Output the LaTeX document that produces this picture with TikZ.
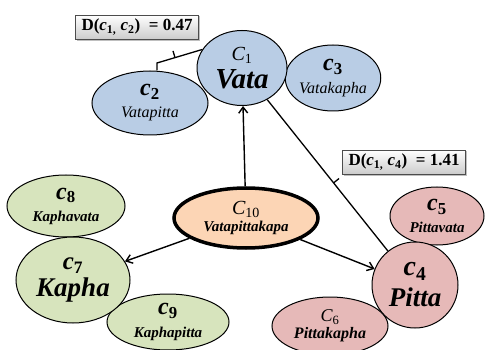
\documentclass[tikz,border=0pt]{standalone}
\usepackage{fontspec}
\setmainfont{Liberation Serif}
\usepackage{tikz}
\usetikzlibrary{positioning,arrows.meta,shapes.geometric,shadows,decorations.markings}

\definecolor{vatablue}{RGB}{185,205,229}
\definecolor{pittapink}{RGB}{230,185,184}
\definecolor{kaphagreen}{RGB}{215,228,189}
\definecolor{mixorange}{RGB}{252,213,181}

\newcommand{\clab}[3]{{\fontsize{#3}{#3}\selectfont\itshape #1\textsubscript{\upshape #2}}}
\newcommand{\dname}[2]{{\fontsize{#2}{#2}\selectfont\bfseries\itshape #1}}
\newcommand{\dlite}[2]{{\fontsize{#2}{#2}\selectfont\itshape #1}}

\tikzset{
  grp/.style={ellipse, draw, line width=1pt, inner sep=0pt, align=center},
  bl/.style={font=\fontsize{10}{#1}\selectfont},
  vata/.style={grp, fill=vatablue},
  pitta/.style={grp, fill=pittapink},
  kapha/.style={grp, fill=kaphagreen},
  dbox/.style={draw=gray!60!black, top color=white, bottom color=gray!40,
    drop shadow={shadow xshift=1.5pt, shadow yshift=-1.5pt, opacity=0.5},
    inner xsep=6pt, inner ysep=4pt, font=\fontsize{17}{17}\selectfont\bfseries},
  arr/.style={line width=1.4pt, -{Straight Barb[length=6pt,width=9pt]}},
  dline/.style={line width=1.3pt},
  dtick/.style 2 args={decoration={markings, mark=at position #1 with {\draw (0,0) -- (0,#2);}}, postaction={decorate}},
}

\begin{document}
\begin{tikzpicture}[x=1pt,y=-1pt]
  \useasboundingbox (0,0) rectangle (485,350);

  % Vata group
  \node[vata, bl=22, minimum width=116, minimum height=64] (c2) at (150,103)
    {\clab{\bfseries c}{2}{24}\\\dlite{Vatapitta}{16}};
  \node[vata, bl=23, minimum width=94, minimum height=66] (c3) at (333,78)
    {\clab{\bfseries c}{3}{24}\\\dlite{Vatakapha}{16}};
  \node[vata, bl=28, minimum width=90, minimum height=75] (c1) at (242,68)
    {\clab{C}{1}{20}\\\dname{Vata}{29}};

  % Pitta group
  \node[pitta, bl=22, minimum width=94, minimum height=58] (c5) at (437,216)
    {\clab{\bfseries c}{5}{24}\\\dname{Pittavata}{15}};
  \node[pitta, bl=17, minimum width=116, minimum height=58] (c6) at (330,326)
    {\clab{C}{6}{18}\\\dname{Pittakapha}{16}};
  \node[pitta, bl=31, minimum width=86, minimum height=86] (c4) at (415,285)
    {\clab{\bfseries c}{4}{28}\\\dname{Pitta}{27}};

  % Kapha group
  \node[kapha, bl=22, minimum width=118, minimum height=62] (c8) at (66,206)
    {\clab{\bfseries c}{8}{24}\\\dname{Kaphavata}{15}};
  \node[kapha, bl=23, minimum width=122, minimum height=56] (c9) at (168,322)
    {\clab{\bfseries c}{9}{24}\\\dname{Kaphapitta}{15}};
  \node[kapha, bl=27, minimum width=114, minimum height=86] (c7) at (73,280)
    {\clab{\bfseries c}{7}{25}\\\dname{Kapha}{27}};

  % Mixed type in the middle
  \node[grp, bl=17, fill=mixorange, line width=3.5pt, minimum width=144, minimum height=60] (c10) at (246,218)
    {\clab{C}{10}{20}\\\dname{Vatapittakapa}{15}};

  % Arrows from the centre
  \draw[arr] (c10) -- (c1);
  \draw[arr] (c10) -- (c4);
  \draw[arr] (c10) -- (c7);

  % Distances
  \coordinate (kink) at (157,63);
  \draw[dline, dtick={0.52}{-7pt}] (c1.155) -- (kink) -- (kink |- c2.north);
  \draw[dline, dtick={0.55}{7pt}] (c1) -- (c4);

  \node[dbox] (d12) at (137,27) {D(\textit{c}\textsubscript{1,} \textit{c}\textsubscript{2})\ \ = 0.47};
  \node[dbox] (d14) at (404,162) {D(\textit{c}\textsubscript{1,} \textit{c}\textsubscript{4})\ \ = 1.41};
\end{tikzpicture}
\end{document}
